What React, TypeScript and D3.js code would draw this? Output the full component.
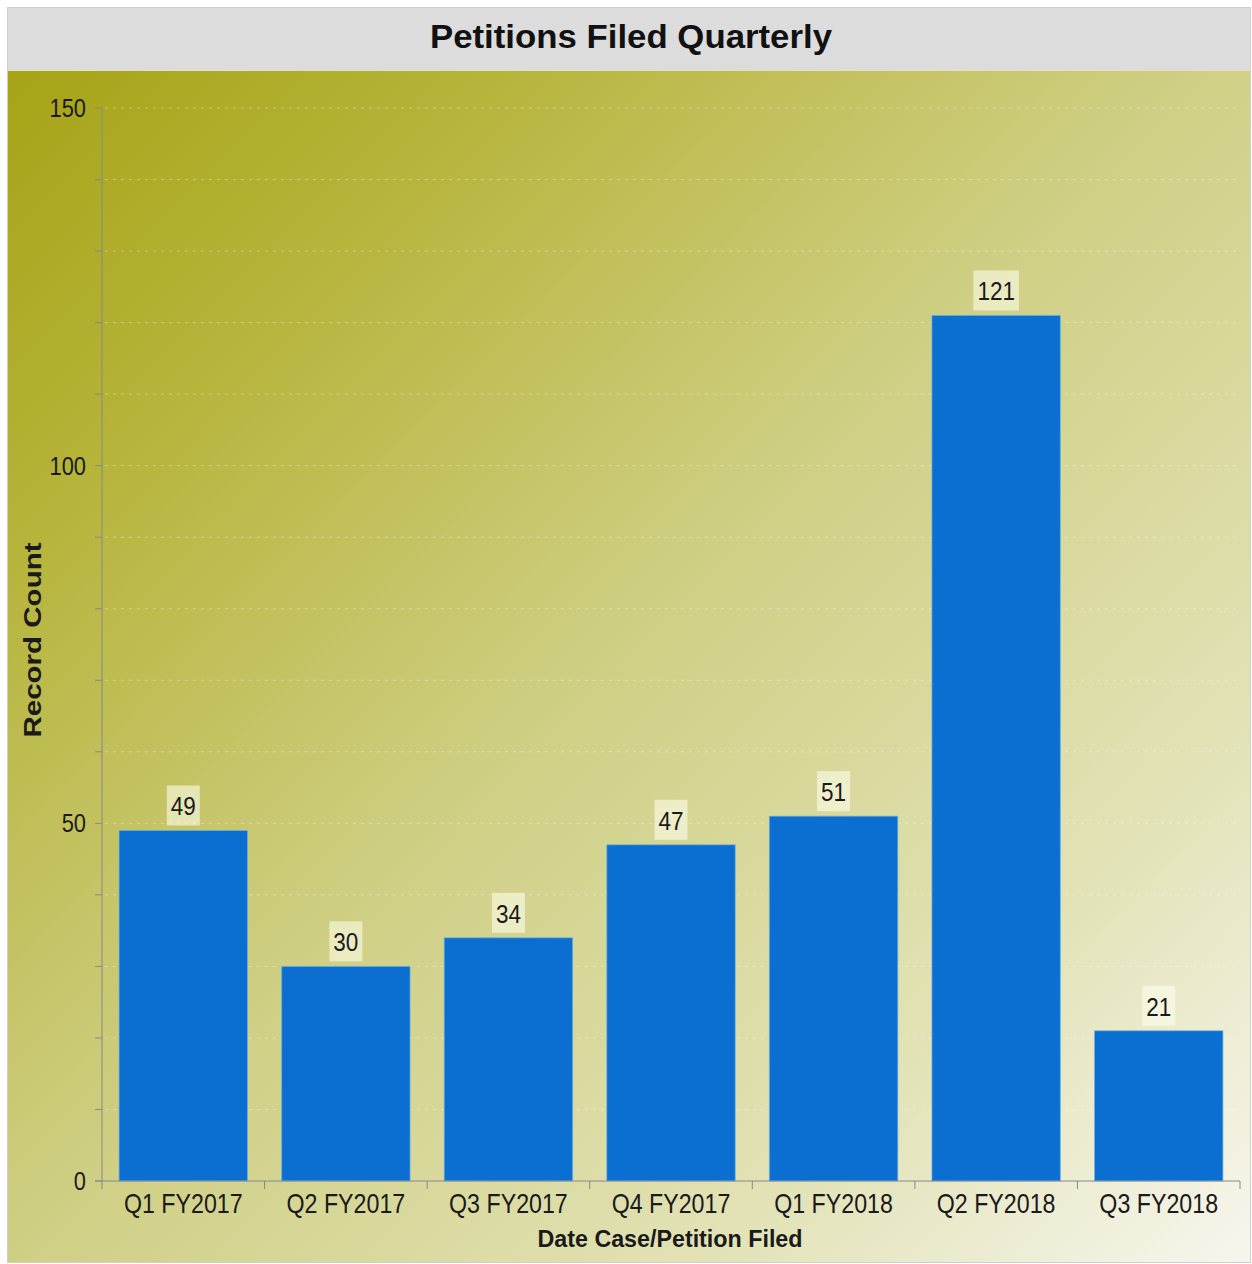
import * as d3 from 'd3'

const categories = ['Q1 FY2017', 'Q2 FY2017', 'Q3 FY2017', 'Q4 FY2017', 'Q1 FY2018', 'Q2 FY2018', 'Q3 FY2018']
const counts = [49, 30, 34, 47, 51, 121, 21]
const yTickValues = [0, 50, 100, 150]
const gridValues = d3.range(10, 151, 10)

const W = 1252
const H = 1264
const plot = { left: 102, right: 1240, top: 108, bottom: 1181 }
const FONT = 'Liberation Sans, Arial, Helvetica, sans-serif'

const App = () => {
  const x = d3.scaleBand<string>()
    .domain(categories)
    .range([plot.left, plot.right])
    .paddingInner(0.21)
    .paddingOuter(0.105)

  const y = d3.scaleLinear()
    .domain([0, 150])
    .range([plot.bottom, plot.top])

  const gap = (x.step() - x.bandwidth()) / 2
  const bounds = categories.map(c => (x(c) as number) - gap).concat([plot.right])
  const minorTicks = d3.range(0, 151, 10)

  return (
    <svg width={W} height={H} style={{ position: 'absolute', left: 0, top: 0, background: '#fff' }}>
      <defs>
        <linearGradient id="bg" x1="0" y1="0" x2="1" y2="1">
          <stop offset="0" stopColor="#a4a112" />
          <stop offset="0.22" stopColor="#b6b43a" />
          <stop offset="0.5" stopColor="#cfcf84" />
          <stop offset="0.78" stopColor="#e2e2b6" />
          <stop offset="1" stopColor="#f7f6ee" />
        </linearGradient>
      </defs>

      {/* frame and title band */}
      <rect x={7.5} y={7.5} width={1243} height={1255} fill="url(#bg)" stroke="#cfcfcf" />
      <rect x={8} y={8} width={1242} height={62} fill="#dcdcdc" />
      <line x1={8} x2={1250} y1={70.5} y2={70.5} stroke="#e6e2b8" />
      <text x={631} y={48} textAnchor="middle" fontFamily={FONT} fontWeight="bold" fontSize={33}
        textLength={402} lengthAdjust="spacingAndGlyphs" fill="#111">
        Petitions Filed Quarterly
      </text>

      {/* grid */}
      {gridValues.map(v => (
        <line key={'g' + v} x1={plot.left + 3} x2={plot.right} y1={y(v)} y2={y(v)}
          stroke="#ffffff" strokeOpacity={0.35} strokeDasharray="3,5" />
      ))}

      {/* bars */}
      {categories.map((c, i) => (
        <rect key={c} x={x(c)} y={y(counts[i])} width={x.bandwidth()} height={y(0) - y(counts[i])}
          fill="#0b6fd1" stroke="#6ab2e4" strokeWidth={1} strokeOpacity={0.7} />
      ))}

      {/* value labels */}
      {categories.map((c, i) => {
        const cx = (x(c) as number) + x.bandwidth() / 2
        const top = y(counts[i])
        const label = String(counts[i])
        const bw = label.length * 12.5 + 8
        return (
          <g key={'v' + c}>
            <rect x={cx - bw / 2} y={top - 45} width={bw} height={40} fill="rgb(255,255,240)" fillOpacity={0.57} />
            <text transform={`translate(${cx},${top - 15}) scale(0.9,1)`} textAnchor="middle"
              fontFamily={FONT} fontSize={25} fill="#1a1a1a">{label}</text>
          </g>
        )
      })}

      {/* y axis */}
      <line x1={plot.left} x2={plot.left} y1={plot.top} y2={plot.bottom} stroke="#888" />
      {minorTicks.map(v => (
        <line key={'t' + v} x1={plot.left - 7} x2={plot.left} y1={y(v)} y2={y(v)} stroke="#888" />
      ))}
      {yTickValues.map(v => (
        <text key={'yl' + v} transform={`translate(86,${y(v) + 9}) scale(0.84,1)`} textAnchor="end"
          fontFamily={FONT} fontSize={26} fill="#1a1a1a">{v}</text>
      ))}
      <text transform={`translate(41,640) rotate(-90)`} textAnchor="middle" fontFamily={FONT}
        fontWeight="bold" fontSize={23} textLength={195} lengthAdjust="spacingAndGlyphs" fill="#1a1a1a">
        Record Count
      </text>

      {/* x axis */}
      <line x1={plot.left - 7} x2={plot.right} y1={plot.bottom} y2={plot.bottom} stroke="#888" />
      {bounds.map((b, i) => (
        <line key={'xb' + i} x1={b} x2={b} y1={plot.bottom} y2={plot.bottom + 8} stroke="#888" />
      ))}
      {categories.map(c => (
        <text key={'xl' + c} transform={`translate(${(x(c) as number) + x.bandwidth() / 2},1213) scale(0.86,1)`}
          textAnchor="middle" fontFamily={FONT} fontSize={27} fill="#1a1a1a">{c}</text>
      ))}
      <text x={670} y={1247} textAnchor="middle" fontFamily={FONT} fontWeight="bold" fontSize={24}
        textLength={265} lengthAdjust="spacingAndGlyphs" fill="#1a1a1a">
        Date Case/Petition Filed
      </text>
    </svg>
  )
}

export default App
